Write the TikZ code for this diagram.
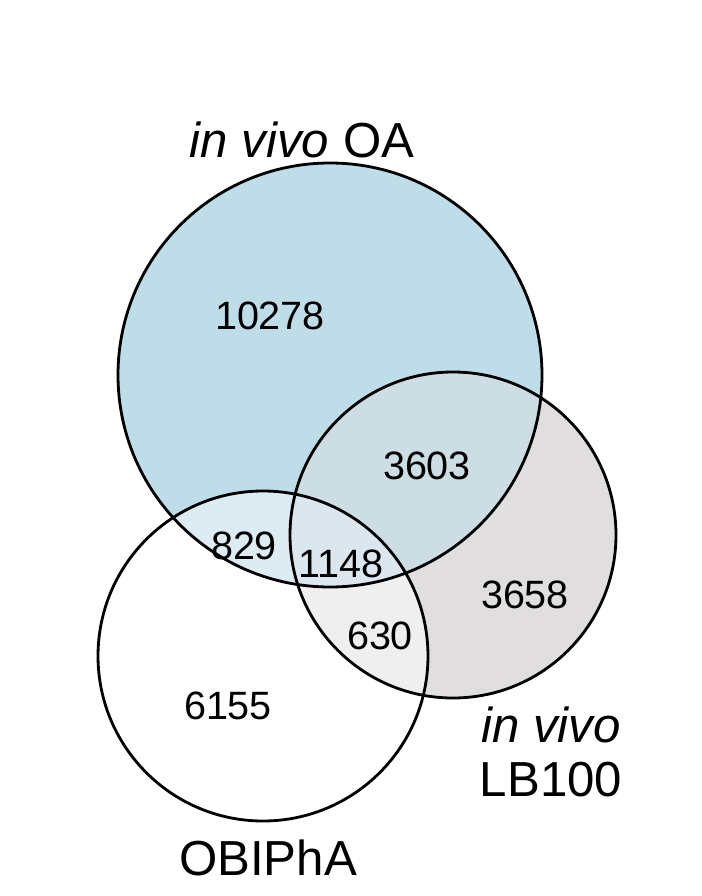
\documentclass[tikz,border=0pt]{standalone}
\usepackage{fontspec}
\setmainfont{Liberation Sans}
\definecolor{oablue}{HTML}{BEDDE9}
\definecolor{lbgray}{HTML}{E0DEDF}
\definecolor{oalb}{HTML}{CCDDE3}
\definecolor{oaob}{HTML}{DDEBF3}
\definecolor{allthree}{HTML}{DCE6EE}
\definecolor{lbob}{HTML}{EFEFEF}
\tikzset{num/.style={font=\fontsize{22.5}{27}\selectfont},
  setlabel/.style={font=\fontsize{28}{31}\selectfont, align=center},
  ring/.style={draw, line width=1.6pt}}
\begin{document}
\begin{tikzpicture}[x=0.02cm, y=-0.02cm]
  \useasboundingbox (0,0) rectangle (701,896);
  \def\oa{(330,375) circle (212)}
  \def\lb{(453,535) circle (163)}
  \def\ob{(263,656) circle (165)}
  % fills
  \fill[oablue] \oa;
  \fill[lbgray] \lb;
  \begin{scope} \clip \oa; \fill[oalb] \lb; \fill[oaob] \ob; \end{scope}
  \begin{scope} \clip \lb; \fill[lbob] \ob; \end{scope}
  \begin{scope} \clip \oa; \clip \lb; \fill[allthree] \ob; \end{scope}
  % outlines
  \draw[ring] \oa; \draw[ring] \lb; \draw[ring] \ob;
  % counts
  \node[num] (n1) at (270,316) {10278};
  \node[num] (n2) at (427,466) {3603};
  \node[num] (n3) at (525,595) {3658};
  \node[num] (n4) at (244,546) {829};
  \node[num] (n5) at (341,564) {1148};
  \node[num] (n6) at (380,636) {630};
  \node[num] (n7) at (228,706) {6155};
  % set names
  \node[setlabel] (oa) at (302,140) {\textit{in vivo} OA};
  \node[setlabel] (lb) at (551,752) {\textit{in vivo}\\LB100};
  \node[setlabel] (ob) at (268,858) {OBIPhA};
\end{tikzpicture}
\end{document}
